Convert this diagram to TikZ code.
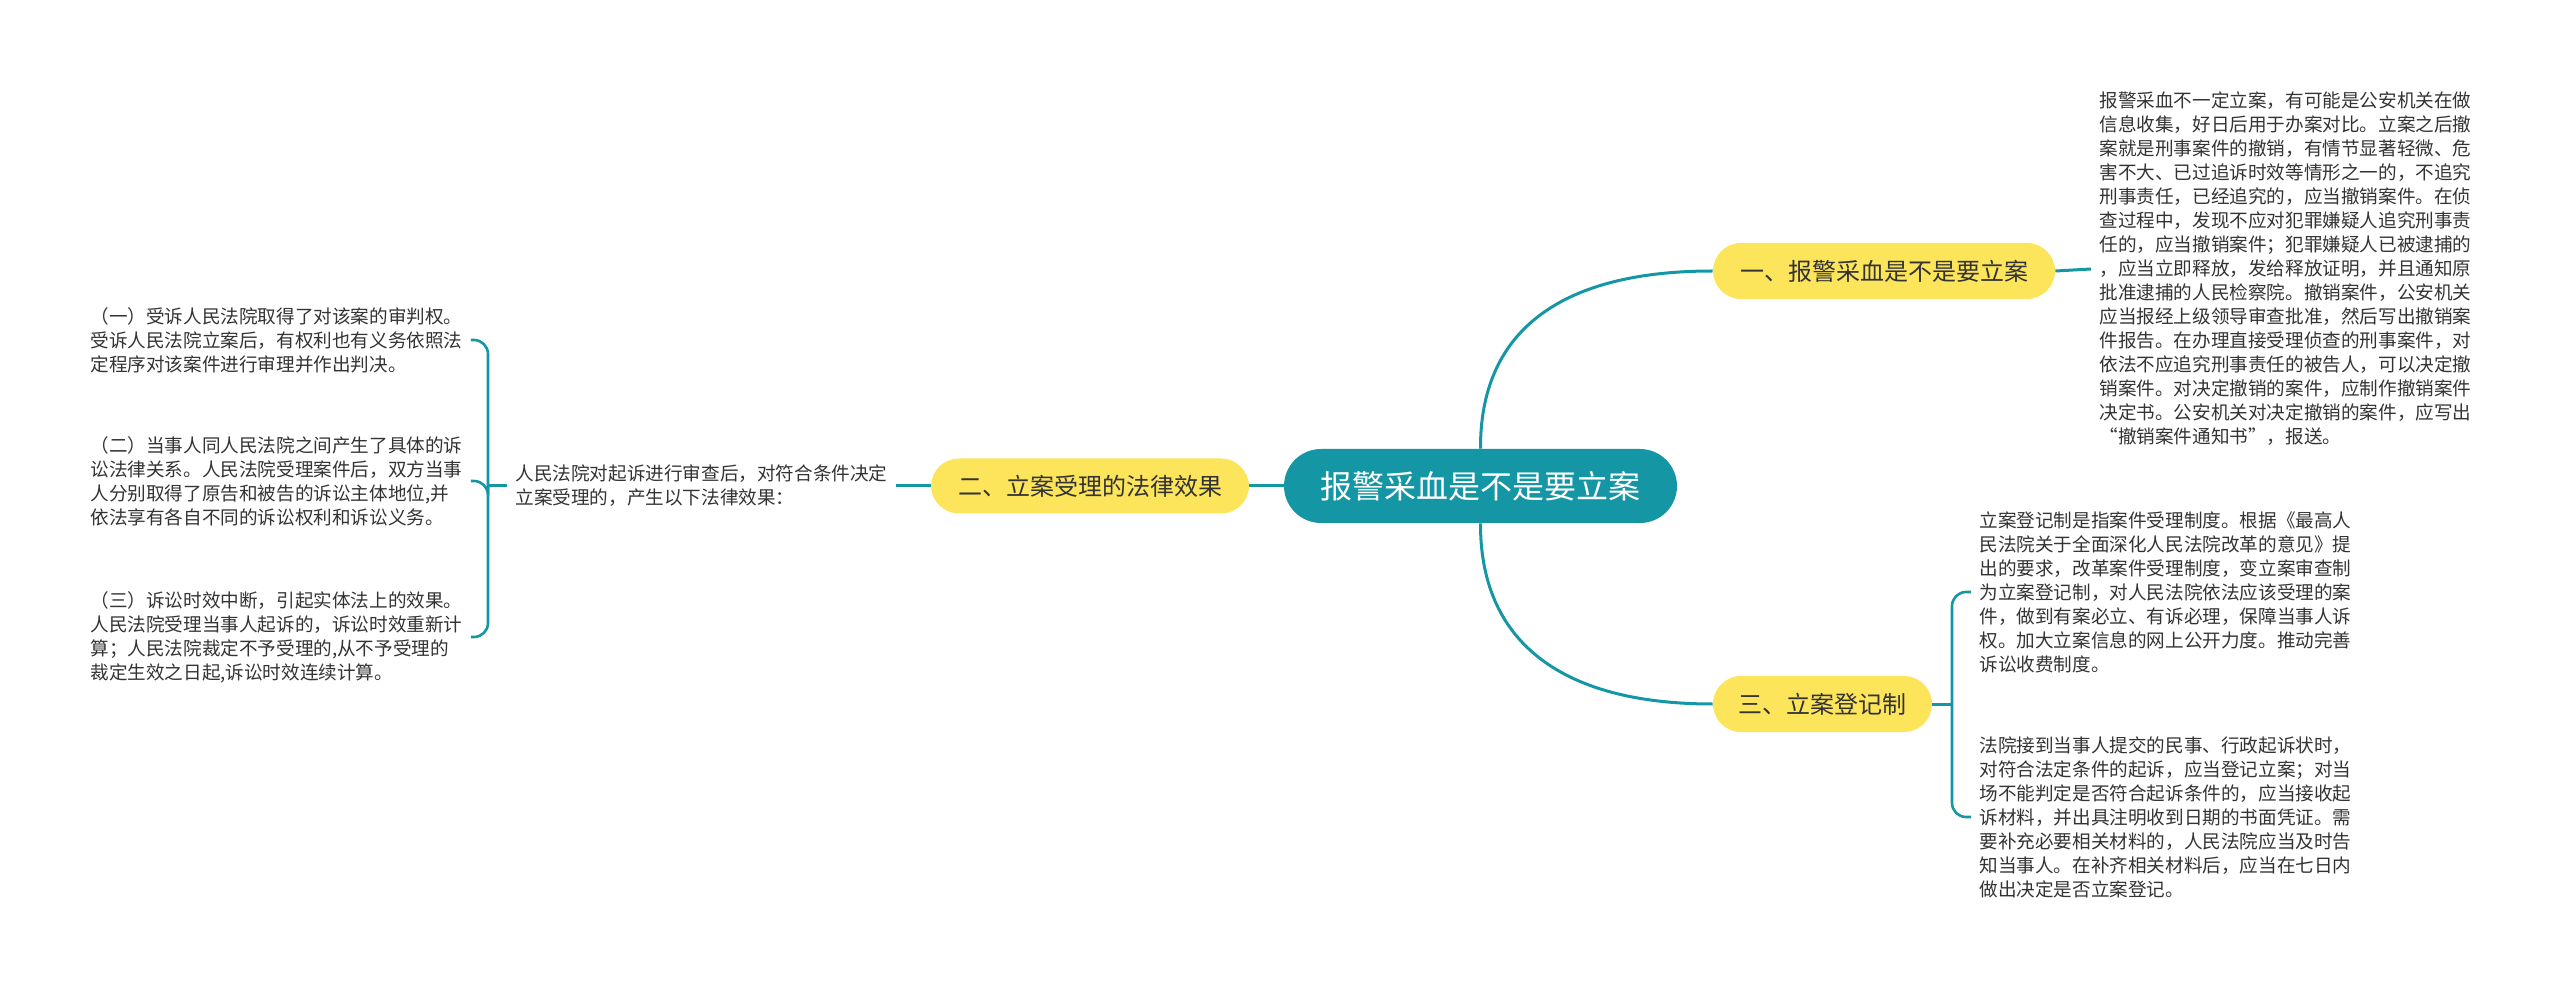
\documentclass[tikz,border=0pt]{standalone}
\usepackage{fontspec}
\setmainfont{Noto Sans CJK SC}
\usepackage{tikz}
\usepackage{xcolor}
\definecolor{mapteal}{RGB}{20,150,165}
\definecolor{mapyellow}{RGB}{252,229,90}
\definecolor{maptext}{RGB}{51,51,51}

\begin{document}
\begin{tikzpicture}[x=0.5pt,y=-0.5pt,
  link/.style={draw=mapteal,line width=1.5pt},
  fork/.style={draw=mapteal,line width=1.3pt,rounded corners=7pt},
  root/.style={fill=mapteal,text=white,rounded corners=18.5pt,minimum width=196.5pt,minimum height=37pt,font=\fontsize{16pt}{16pt}\selectfont},
  topic/.style={fill=mapyellow,text=maptext,rounded corners=14pt,minimum height=28pt,font=\fontsize{12pt}{12pt}\selectfont},
  leaf/.style={text=maptext,align=left,inner xsep=4pt,inner ysep=0pt,font=\fontsize{9.3pt}{12pt}\selectfont}]
  \useasboundingbox (0,0) rectangle (2560,989);
  \node[root] (root) at (1480.5,486) {报警采血是不是要立案};
  \node[topic,minimum width=171pt] (n1) at (1884,271) {一、报警采血是不是要立案};
  \node[topic,minimum width=159pt,minimum height=27.5pt] (n2) at (1090,486) {二、立案受理的法律效果};
  \node[topic,minimum width=109.5pt] (n3) at (1822.5,704) {三、立案登记制};
  % right top
  \node[leaf,anchor=west] (t1) at (2091,269) {报警采血不一定立案，有可能是公安机关在做\\信息收集，好日后用于办案对比。立案之后撤\\案就是刑事案件的撤销，有情节显著轻微、危\\害不大、已过追诉时效等情形之一的，不追究\\刑事责任，已经追究的，应当撤销案件。在侦\\查过程中，发现不应对犯罪嫌疑人追究刑事责\\任的，应当撤销案件；犯罪嫌疑人已被逮捕的\\，应当立即释放，发给释放证明，并且通知原\\批准逮捕的人民检察院。撤销案件，公安机关\\应当报经上级领导审查批准，然后写出撤销案\\件报告。在办理直接受理侦查的刑事案件，对\\依法不应追究刑事责任的被告人，可以决定撤\\销案件。对决定撤销的案件，应制作撤销案件\\决定书。公安机关对决定撤销的案件，应写出\\“撤销案件通知书”，报送。};
  % left
  \node[leaf,anchor=west] (t2) at (507,486) {人民法院对起诉进行审查后，对符合条件决定\\立案受理的，产生以下法律效果：};
  \node[leaf,anchor=west] (b1) at (82,340) {（一）受诉人民法院取得了对该案的审判权。\\受诉人民法院立案后，有权利也有义务依照法\\定程序对该案件进行审理并作出判决。};
  \node[leaf,anchor=west] (b2) at (82,481) {（二）当事人同人民法院之间产生了具体的诉\\讼法律关系。人民法院受理案件后，双方当事\\人分别取得了原告和被告的诉讼主体地位,并\\依法享有各自不同的诉讼权利和诉讼义务。};
  \node[leaf,anchor=west] (b3) at (82,637) {（三）诉讼时效中断，引起实体法上的效果。\\人民法院受理当事人起诉的，诉讼时效重新计\\算；人民法院裁定不予受理的,从不予受理的\\裁定生效之日起,诉讼时效连续计算。};
  % right bottom
  \node[leaf,anchor=west] (r1) at (1971,592) {立案登记制是指案件受理制度。根据《最高人\\民法院关于全面深化人民法院改革的意见》提\\出的要求，改革案件受理制度，变立案审查制\\为立案登记制，对人民法院依法应该受理的案\\件，做到有案必立、有诉必理，保障当事人诉\\权。加大立案信息的网上公开力度。推动完善\\诉讼收费制度。};
  \node[leaf,anchor=west] (r2) at (1971,817) {法院接到当事人提交的民事、行政起诉状时，\\对符合法定条件的起诉，应当登记立案；对当\\场不能判定是否符合起诉条件的，应当接收起\\诉材料，并出具注明收到日期的书面凭证。需\\要补充必要相关材料的，人民法院应当及时告\\知当事人。在补齐相关材料后，应当在七日内\\做出决定是否立案登记。};
  \coordinate (j2) at (488,486); \coordinate (j3) at (1952,704);
  \draw[link] (root.north) .. controls (1480,335) and (1555,271) .. (n1.west);
  \draw[link] (root.south) .. controls (1480,637) and (1555,704) .. (n3.west);
  \draw[link] (root.west) -- (n2.east); \draw[link] (n2.west) -- (t2.east); \draw[link] (t2.west) -- (j2);
  \draw[fork] (j2) |- (b1.east); \draw[fork] (j2) |- (b2.east); \draw[fork] (j2) |- (b3.east);
  \draw[link] (n1.east) -- (t1.west); \draw[link] (n3.east) -- (j3);
  \draw[fork] (j3) |- (r1.west); \draw[fork] (j3) |- (r2.west);
\end{tikzpicture}
\end{document}
